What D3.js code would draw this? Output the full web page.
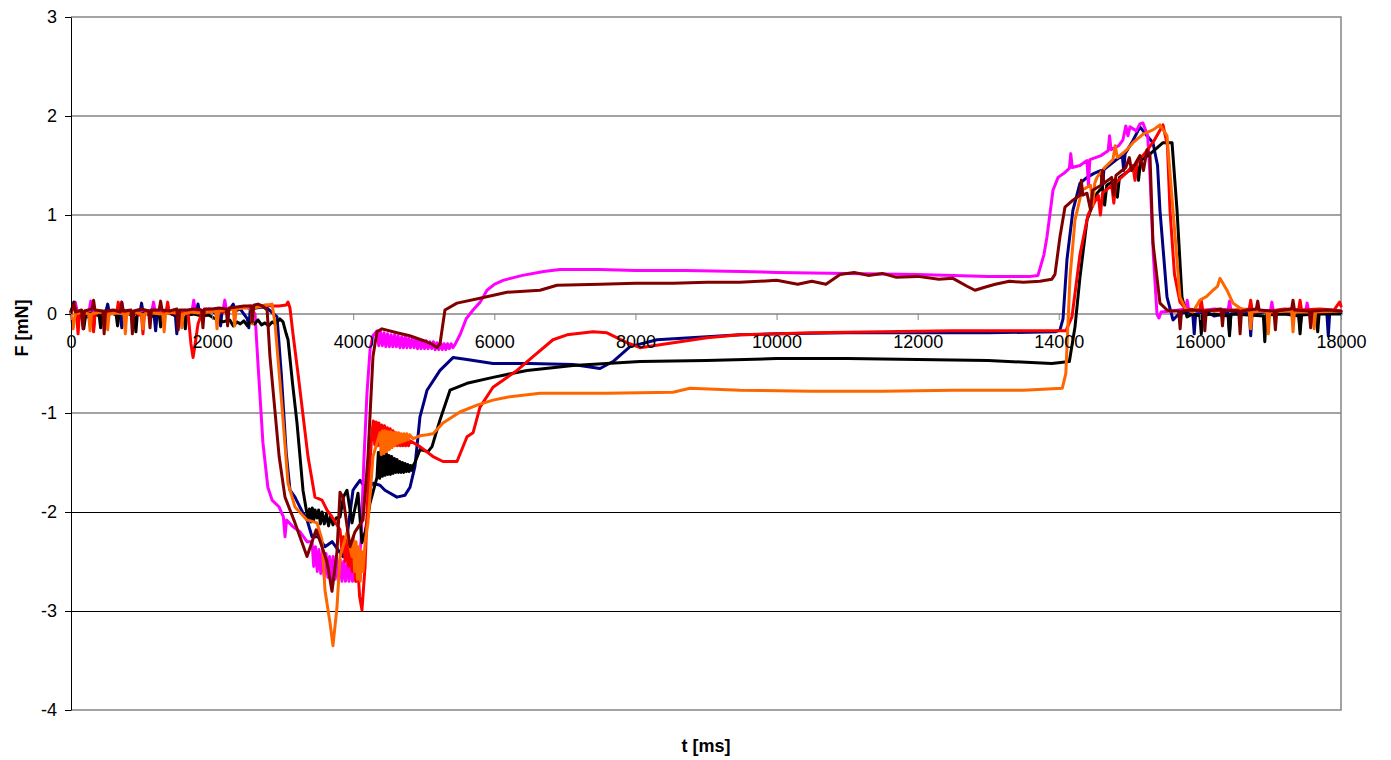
<!DOCTYPE html>
<html>
<head>
<meta charset="utf-8">
<script src="https://cdn.jsdelivr.net/npm/d3@7"></script>
<style>
  body { margin: 0; background: #fff; }
  svg { display: block; font-family: "Liberation Sans", Arial, sans-serif; }
</style>
</head>
<body>
<svg id="chart" width="1391" height="760"></svg>
<script>
// Axis ticks
const xTicks = [0, 2000, 4000, 6000, 8000, 10000, 12000, 14000, 16000, 18000];
const yTicks = [3, 2, 1, 0, -1, -2, -3, -4];
const xTitle = "t [ms]";
const yTitle = "F [mN]";

// Force traces, [t in ms, F in mN]
const navy = [
  [0,0.02],[40,0.1],[80,0.0],[150,0.03],[230,-0.03],[300,0.02],[320,-0.15],[340,0.02],[420,0.0],[500,0.04],
  [520,0.1],[540,0.02],[640,0.01],[700,-0.02],[720,-0.14],[740,0.01],[820,0.03],[900,0.0],[980,0.02],[1000,0.11],
  [1020,0.02],[1100,0.0],[1180,-0.03],[1200,-0.17],[1220,0.0],[1320,0.02],[1400,0.01],[1480,-0.02],[1500,-0.2],[1520,0.0],
  [1620,0.03],[1700,0.0],[1780,0.02],[1800,0.1],[1820,0.02],[1900,0.01],[2000,0.03],[2100,-0.02],[2120,-0.12],[2140,0.02],
  [2240,0.04],[2300,0.1],[2320,0.03],[2400,0.05],[2500,-0.05],[2520,-0.14],[2540,0.04],[2620,0.06],[2700,0.07],[2780,0.06],
  [2920,-0.03],[2980,-0.6],[3050,-1.4],[3104,-1.78],[3175,-1.85],[3217,-1.91],[3280,-2.0],[3345,-2.08],[3416,-2.25],[3500,-2.25],
  [3600,-2.35],[3700,-2.3],[3855,-2.45],[3920,-2.2],[3997,-1.78],[4025,-1.75],[4096,-1.68],[4195,-1.78],[4280,-1.71],[4379,-1.73],
  [4450,-1.78],[4620,-1.85],[4734,-1.83],[4805,-1.75],[4875,-1.54],[4946,-1.04],[5017,-0.85],[5046,-0.77],[5230,-0.57],[5414,-0.44],
  [5613,-0.46],[5981,-0.5],[6500,-0.5],[7115,-0.51],[7498,-0.55],[7682,-0.48],[7923,-0.33],[8305,-0.26],[9014,-0.23],[9482,-0.21],
  [10000,-0.2],[11000,-0.19],[12000,-0.19],[13000,-0.19],[13950,-0.18],[14017,-0.16],[14060,-0.05],[14116,0.55],[14201,1.05],[14300,1.32],
  [14400,1.38],[14500,1.42],[14600,1.45],[14620,1.28],[14640,1.46],[14800,1.55],[14900,1.6],[14920,1.45],[14940,1.62],[15050,1.75],
  [15151,1.89],[15250,1.8],[15335,1.73],[15400,1.5],[15434,1.05],[15534,0.17],[15619,-0.06],[15700,0.0],[15800,0.02],[15900,-0.01],
  [15920,-0.2],[15940,0.0],[16100,0.02],[16200,-0.02],[16400,0.01],[16420,-0.18],[16440,0.0],[16700,0.02],[16720,-0.22],[16740,0.0],
  [17000,0.03],[17200,0.01],[17400,0.02],[17420,-0.15],[17440,0.0],[17650,0.02],[17800,0.0],[17820,-0.22],[17840,0.01],[18000,0.02]
];

const magenta = [
  [0,0.03],[60,0.12],[90,0.02],[180,0.01],[260,0.04],[280,0.13],[300,0.03],[400,0.02],[500,-0.02],[600,0.03],
  [700,0.05],[720,0.12],[740,0.03],[850,0.02],[950,0.0],[1050,0.03],[1150,0.04],[1170,0.12],[1190,0.03],[1300,0.02],
  [1420,0.0],[1520,0.03],[1620,0.02],[1720,0.05],[1740,0.14],[1760,0.04],[1860,0.03],[1960,0.05],[2060,0.04],[2160,0.06],
  [2180,0.14],[2200,0.05],[2300,0.05],[2400,0.07],[2500,0.06],[2560,0.05],[2608,0.0],[2650,-0.5],[2720,-1.3],[2790,-1.75],
  [2850,-1.88],[2950,-1.95],[3010,-2.05],[3033,-2.25],[3055,-2.08],[3146,-2.15],[3246,-2.2],[3345,-2.3],[3416,-2.3],[3440,-2.55],
  [3465,-2.35],[3490,-2.6],[3515,-2.38],[3540,-2.62],[3565,-2.4],[3590,-2.65],[3615,-2.42],[3640,-2.66],[3665,-2.45],[3690,-2.68],
  [3715,-2.45],[3740,-2.68],[3765,-2.47],[3790,-2.7],[3815,-2.48],[3840,-2.7],[3865,-2.5],[3890,-2.7],[3915,-2.52],[3940,-2.7],
  [3965,-2.52],[3990,-2.7],[4015,-2.55],[4040,-2.7],[4068,-2.6],
  [4110,-2.3],[4150,-1.5],[4195,-0.8],[4240,-0.35],[4280,-0.22],
  [4337,-0.17],[4362,-0.32],[4387,-0.18],[4412,-0.32],[4437,-0.19],[4462,-0.33],[4487,-0.2],[4512,-0.33],[4537,-0.21],[4562,-0.33],
  [4587,-0.21],[4612,-0.33],[4637,-0.22],[4662,-0.34],[4687,-0.23],[4712,-0.34],[4737,-0.23],[4762,-0.34],[4787,-0.24],[4812,-0.34],
  [4837,-0.25],[4862,-0.34],[4887,-0.25],[4912,-0.35],[4937,-0.26],[4962,-0.35],[4987,-0.27],[5012,-0.35],[5037,-0.27],[5062,-0.35],
  [5087,-0.28],[5112,-0.35],[5137,-0.28],[5162,-0.36],[5187,-0.29],[5212,-0.36],[5237,-0.29],[5262,-0.36],[5287,-0.3],[5312,-0.36],
  [5337,-0.3],[5362,-0.35],[5387,-0.3],[5412,-0.34],[5442,-0.31],
  [5520,-0.2],[5600,-0.05],[5698,0.04],[5800,0.12],[5896,0.24],[6000,0.3],
  [6123,0.34],[6400,0.39],[6700,0.43],[6931,0.45],[7500,0.45],[8000,0.44],[8700,0.44],[9500,0.43],[10000,0.42],[11000,0.41],
  [12000,0.4],[13000,0.38],[13600,0.38],[13705,0.39],[13790,0.6],[13833,0.78],[13918,1.25],[13990,1.38],[14088,1.43],[14150,1.47],
  [14170,1.62],[14190,1.48],[14300,1.5],[14400,1.55],[14420,1.3],[14440,1.56],[14600,1.6],[14700,1.65],[14720,1.8],[14740,1.66],
  [14850,1.7],[14910,1.76],[14950,1.9],[14980,1.8],[15009,1.89],[15100,1.85],[15150,1.92],[15193,1.93],[15260,1.8],[15293,1.4],
  [15340,0.6],[15392,0.0],[15420,-0.04],[15450,0.02],[15600,0.03],[15800,0.05],[15820,0.14],[15840,0.04],[16000,0.03],[16200,0.05],
  [16400,0.04],[16420,0.13],[16440,0.04],[16600,0.03],[16800,0.04],[17000,0.03],[17020,0.12],[17040,0.03],[17300,0.05],[17500,0.03],
  [17520,0.11],[17540,0.03],[17800,0.04],[18000,0.03]
];

const black = [
  [0,0.0],[40,0.12],[70,0.0],[150,-0.02],[180,-0.15],[210,0.0],[300,0.01],[400,-0.02],[420,-0.14],[440,0.0],
  [540,0.02],[640,-0.01],[660,-0.12],[680,0.0],[800,0.01],[900,-0.03],[920,-0.18],[940,0.0],[1050,0.01],[1150,-0.02],
  [1250,0.0],[1270,-0.13],[1290,0.0],[1400,0.01],[1500,-0.02],[1600,-0.03],[1620,-0.15],[1640,-0.01],[1750,0.0],[1850,-0.02],
  [1950,-0.01],[2050,-0.05],[2150,-0.08],[2250,-0.06],[2300,-0.12],[2350,-0.08],[2400,-0.1],[2450,-0.07],[2500,-0.12],[2540,-0.08],
  [2600,-0.1],[2650,-0.06],[2700,-0.11],[2750,-0.09],[2800,-0.12],[2850,-0.08],[2900,-0.1],[2960,-0.05],[3005,-0.08],[3050,-0.2],
  [3076,-0.26],[3140,-0.7],[3203,-1.1],[3288,-1.78],[3359,-2.08],[3380,-1.97],[3400,-2.1],[3420,-1.96],[3440,-2.08],[3460,-1.98],
  [3487,-2.06],[3510,-1.98],[3535,-2.12],[3560,-2.0],[3590,-2.12],[3620,-2.02],[3650,-2.14],[3680,-2.04],[3713,-2.13],[3760,-2.06],
  [3813,-2.05],[3860,-1.85],[3912,-1.78],[3983,-2.11],[4068,-1.81],[4124,-2.31],[4170,-2.2],[4238,-1.91],
  [4337,-1.65],[4356,-1.4],[4375,-1.66],[4394,-1.38],[4413,-1.64],[4432,-1.39],[4451,-1.63],[4470,-1.41],[4489,-1.62],[4508,-1.43],
  [4527,-1.62],[4546,-1.44],[4565,-1.61],[4584,-1.46],[4603,-1.6],[4622,-1.47],[4641,-1.6],[4660,-1.49],[4679,-1.6],[4698,-1.5],
  [4717,-1.6],[4736,-1.51],[4755,-1.59],[4774,-1.52],[4793,-1.59],[4812,-1.53],[4831,-1.58],[4850,-1.53],[4875,-1.5],
  [4946,-1.37],[5060,-1.39],[5117,-1.34],[5230,-1.07],[5372,-0.77],[5613,-0.7],[5981,-0.64],[6463,-0.57],
  [7115,-0.52],[8064,-0.48],[9000,-0.47],[10000,-0.45],[11000,-0.45],[12000,-0.46],[13000,-0.47],[13900,-0.5],[14150,-0.48],[14230,-0.13],
  [14300,0.37],[14400,0.95],[14541,1.22],[14620,1.28],[14650,1.1],[14680,1.3],[14726,1.32],[14800,1.36],[14830,1.18],[14860,1.38],
  [15000,1.45],[15100,1.52],[15130,1.35],[15160,1.55],[15300,1.62],[15477,1.73],[15605,1.73],[15676,1.05],[15746,0.17],[15817,-0.03],
  [15900,0.0],[16000,-0.02],[16020,-0.2],[16040,-0.01],[16200,0.0],[16400,-0.02],[16420,-0.22],[16440,0.0],[16700,-0.01],[16900,-0.02],
  [16920,-0.28],[16940,-0.01],[17200,0.0],[17400,-0.02],[17420,-0.2],[17440,-0.01],[17650,0.0],[17670,-0.18],[17690,0.0],[18000,0.0]
];

const red = [
  [0,0.0],[50,0.1],[80,0.0],[100,-0.2],[120,0.0],[200,0.02],[300,-0.02],[320,-0.18],[340,0.0],[450,0.03],
  [550,0.0],[650,0.02],[670,0.12],[690,0.02],[800,0.0],[900,0.02],[1000,-0.02],[1020,-0.2],[1040,0.0],[1150,0.02],
  [1250,0.0],[1350,0.03],[1370,0.12],[1390,0.02],[1500,0.0],[1600,0.01],[1660,0.0],[1700,-0.3],[1730,-0.44],[1760,-0.3],
  [1800,-0.1],[1850,0.0],[1950,0.02],[2050,0.03],[2150,0.02],[2250,0.05],[2350,0.06],[2450,0.07],[2550,0.08],[2650,0.07],
  [2750,0.09],[2850,0.08],[2950,0.08],[3050,0.09],[3076,0.12],[3104,0.06],[3146,-0.2],[3217,-0.6],[3359,-1.44],[3458,-1.85],
  [3557,-1.88],[3628,-1.98],[3700,-2.05],[3813,-2.18],[3840,-2.4],[3860,-2.25],[3885,-2.5],[3910,-2.3],[3935,-2.55],[3960,-2.35],
  [3985,-2.6],[4010,-2.4],[4035,-2.7],[4060,-2.5],[4090,-2.85],[4124,-2.99],[4167,-2.56],[4209,-1.78],
  [4266,-1.2],[4285,-1.08],[4305,-1.32],[4325,-1.09],[4345,-1.33],[4365,-1.1],[4385,-1.33],[4405,-1.12],[4425,-1.33],[4445,-1.13],
  [4465,-1.33],[4485,-1.15],[4505,-1.33],[4525,-1.16],[4545,-1.33],[4565,-1.18],[4585,-1.33],[4605,-1.2],[4625,-1.33],[4645,-1.21],
  [4665,-1.33],[4685,-1.23],[4705,-1.33],[4725,-1.24],[4745,-1.33],[4765,-1.26],[4785,-1.33],[4805,-1.28],
  [4946,-1.34],[5131,-1.44],[5272,-1.49],[5471,-1.49],[5613,-1.24],[5698,-1.2],
  [5797,-0.94],[5981,-0.74],[6321,-0.57],[6548,-0.43],[6831,-0.26],[7030,-0.21],[7398,-0.18],[7597,-0.19],[7880,-0.29],[8064,-0.34],
  [8348,-0.31],[9014,-0.24],[9482,-0.21],[10500,-0.19],[11500,-0.18],[12500,-0.17],[13500,-0.17],[14100,-0.17],[14187,-0.03],[14300,0.6],
  [14414,1.0],[14500,1.12],[14560,1.2],[14590,1.0],[14620,1.22],[14750,1.3],[14780,1.12],[14810,1.33],[14950,1.42],[15050,1.5],
  [15080,1.35],[15110,1.53],[15250,1.65],[15350,1.75],[15477,1.91],[15540,1.7],[15576,1.05],[15640,0.4],[15718,0.12],[15800,0.05],
  [16000,0.04],[16020,0.14],[16040,0.04],[16300,0.03],[16500,0.04],[16700,0.05],[16720,0.14],[16740,0.04],[17000,0.03],[17200,0.05],
  [17400,0.04],[17420,0.14],[17440,0.04],[17700,0.05],[17900,0.04],[17980,0.12],[18000,0.08]
];

const orange = [
  [0,0.0],[30,-0.15],[60,0.0],[150,0.02],[250,0.0],[270,-0.17],[290,0.0],[400,0.02],[500,0.0],[520,-0.16],
  [540,0.0],[650,0.01],[750,0.0],[770,-0.2],[790,0.0],[900,0.02],[1000,0.0],[1020,-0.15],[1040,0.0],[1150,0.01],
  [1300,0.0],[1320,-0.18],[1340,0.0],[1450,0.02],[1550,0.0],[1570,-0.14],[1590,0.0],[1700,0.02],[1800,0.01],[1950,0.02],
  [2050,0.03],[2070,-0.15],[2090,0.03],[2200,0.04],[2300,0.05],[2320,-0.12],[2340,0.05],[2450,0.06],[2550,0.07],[2570,-0.1],
  [2590,0.06],[2700,0.08],[2780,0.09],[2849,0.1],[2891,-0.09],[2991,-0.94],[3076,-1.71],[3175,-1.95],[3345,-2.08],[3487,-2.11],
  [3557,-2.28],[3600,-2.79],[3671,-3.12],[3713,-3.35],[3770,-2.96],[3813,-2.45],[3912,-2.21],[3983,-2.45],[4000,-2.25],[4020,-2.6],
  [4040,-2.3],[4060,-2.68],[4080,-2.35],[4100,-2.7],[4120,-2.4],[4139,-2.6],[4170,-2.3],[4209,-2.11],[4280,-1.44],
  [4379,-1.2],[4398,-1.42],[4417,-1.18],[4436,-1.41],[4455,-1.18],[4474,-1.39],[4493,-1.19],[4512,-1.37],[4531,-1.19],[4550,-1.35],
  [4569,-1.2],[4588,-1.33],[4607,-1.2],[4626,-1.31],[4645,-1.2],[4664,-1.3],[4683,-1.21],[4702,-1.29],[4721,-1.21],[4740,-1.28],
  [4760,-1.21],[4780,-1.27],[4800,-1.22],[4850,-1.26],[4946,-1.23],
  [5046,-1.22],[5131,-1.21],[5272,-1.1],[5513,-0.99],
  [5754,-0.92],[5981,-0.87],[6179,-0.84],[6647,-0.8],[7597,-0.8],[8532,-0.79],[8773,-0.75],[9482,-0.77],[10500,-0.78],[11500,-0.78],
  [12500,-0.77],[13500,-0.77],[14050,-0.75],[14100,-0.6],[14159,0.37],[14230,0.95],[14329,1.25],[14450,1.3],[14480,1.1],[14510,1.32],
  [14541,1.38],[14650,1.48],[14768,1.56],[14800,1.7],[14830,1.58],[14950,1.65],[15052,1.73],[15200,1.82],[15335,1.86],[15434,1.91],
  [15534,1.8],[15619,1.05],[15718,0.17],[15800,0.05],[15900,0.02],[16001,0.14],[16100,0.18],[16185,0.24],[16250,0.28],[16285,0.36],
  [16384,0.24],[16469,0.11],[16568,0.06],[16700,0.03],[16720,-0.15],[16740,0.02],[16950,0.03],[16970,-0.2],[16990,0.02],[17300,0.03],
  [17320,-0.18],[17340,0.02],[17600,0.02],[17620,-0.15],[17640,0.02],[18000,0.03]
];

const maroon = [
  [0,0.03],[40,0.1],[70,0.02],[150,0.04],[170,-0.15],[190,0.03],[300,0.05],[320,0.14],[340,0.04],[450,0.03],
  [470,-0.2],[490,0.03],[600,0.04],[700,0.02],[720,0.12],[740,0.03],[850,0.04],[870,-0.2],[890,0.03],[1000,0.05],
  [1100,0.03],[1120,-0.14],[1140,0.04],[1250,0.04],[1270,0.13],[1290,0.04],[1400,0.03],[1500,0.05],[1520,-0.16],[1540,0.04],
  [1650,0.04],[1750,0.05],[1850,0.04],[1870,-0.14],[1890,0.05],[2000,0.05],[2100,0.06],[2200,0.05],[2220,-0.12],[2240,0.06],
  [2350,0.07],[2450,0.08],[2550,0.08],[2570,-0.08],[2590,0.09],[2650,0.1],[2720,0.08],[2780,0.04],[2820,-0.43],[2950,-1.44],
  [3033,-1.85],[3175,-2.11],[3345,-2.45],[3475,-2.18],[3628,-2.5],[3699,-2.8],[3770,-2.4],[3813,-1.8],[3855,-1.85],[3954,-2.35],
  [4025,-2.2],[4139,-2.08],[4209,-1.44],[4280,-0.43],[4337,-0.18],[4408,-0.15],[4620,-0.19],[4800,-0.22],[5000,-0.27],[5130,-0.31],
  [5188,-0.34],[5230,-0.3],[5300,0.04],[5471,0.11],[5797,0.16],[6179,0.22],[6647,0.24],[6888,0.29],[7500,0.3],[8000,0.31],
  [8532,0.31],[9014,0.32],[9482,0.32],[10000,0.34],[10300,0.3],[10500,0.33],[10700,0.3],[10900,0.4],[11100,0.42],[11300,0.39],
  [11500,0.41],[11700,0.37],[12000,0.38],[12300,0.35],[12500,0.36],[12700,0.28],[12812,0.24],[12950,0.27],[13100,0.3],[13300,0.33],
  [13500,0.32],[13734,0.33],[13900,0.35],[13946,0.4],[14017,0.78],[14088,1.08],[14201,1.15],[14300,1.2],[14320,1.35],[14340,1.2],
  [14400,1.22],[14450,1.05],[14480,1.25],[14600,1.3],[14620,1.45],[14640,1.32],[14750,1.38],[14780,1.2],[14810,1.4],[14950,1.48],
  [15000,1.58],[15030,1.45],[15150,1.6],[15200,1.45],[15250,1.66],[15293,1.6],[15335,0.72],[15434,0.11],[15534,0.04],[15600,0.03],
  [15700,0.03],[15720,-0.15],[15740,0.03],[15900,0.04],[16050,0.03],[16070,-0.17],[16090,0.03],[16300,0.05],[16320,-0.12],[16340,0.04],
  [16550,0.03],[16570,-0.2],[16590,0.03],[16800,0.05],[16820,0.13],[16840,0.04],[17050,0.03],[17070,-0.16],[17090,0.03],[17300,0.05],
  [17320,0.14],[17340,0.04],[17550,0.03],[17570,-0.14],[17590,0.03],[17800,0.04],[18000,0.03]
];

const traces = [
  { values: navy, color: "#000080" },
  { values: magenta, color: "#FF00FF" },
  { values: black, color: "#000000" },
  { values: red, color: "#FF0000" },
  { values: orange, color: "#FF6600" },
  { values: maroon, color: "#800000" }
];

const svg = d3.select("#chart");
const plotLeft = 71, plotRight = 1341, plotTop = 17, plotBottom = 710;

const x = d3.scaleLinear().domain([0, 18000]).range([plotLeft, plotRight]);
const y = d3.scaleLinear().domain([-4, 3]).range([plotBottom, plotTop]);

const isDark = d => d === -2 || d === -3;

// Horizontal gridlines
svg.append("g")
  .selectAll("line")
  .data(yTicks.filter(v => v !== 3 && v !== -4))
  .join("line")
  .attr("x1", plotLeft).attr("x2", plotRight)
  .attr("y1", d => y(d) + (isDark(d) ? 0.5 : 0))
  .attr("y2", d => y(d) + (isDark(d) ? 0.5 : 0))
  .attr("stroke", d => isDark(d) ? "#000" : "#858585")
  .attr("stroke-width", d => isDark(d) ? 1 : 1.5);

// Plot area frame (top, right, bottom)
svg.append("path")
  .attr("d", `M${plotLeft},${plotTop}H${plotRight}V${plotBottom}H${plotLeft}`)
  .attr("fill", "none")
  .attr("stroke", "#858585")
  .attr("stroke-width", 1.5);

// Traces
const line = d3.line()
  .x(d => x(d[0]))
  .y(d => y(d[1]));

svg.append("g")
  .selectAll("path")
  .data(traces)
  .join("path")
  .attr("d", d => line(d.values))
  .attr("fill", "none")
  .attr("stroke", d => d.color)
  .attr("stroke-width", 3)
  .attr("stroke-linejoin", "round")
  .attr("stroke-linecap", "round");

// Y axis
const yAxis = svg.append("g")
  .attr("transform", `translate(${plotLeft},0)`)
  .call(d3.axisLeft(y).tickValues(yTicks).tickSize(6).tickSizeOuter(0).tickPadding(8)
    .tickFormat(d => String(d)));
yAxis.select(".domain").attr("stroke", "#000");
yAxis.selectAll(".tick line").attr("stroke", "#000");
yAxis.selectAll("text")
  .attr("font-size", 18)
  .attr("font-family", "'Liberation Sans', Arial, sans-serif")
  .attr("fill", "#000");

// X axis crossing at F = 0
const xAxis = svg.append("g")
  .attr("transform", `translate(0,${y(0)})`)
  .call(d3.axisBottom(x).tickValues(xTicks).tickSize(6).tickSizeOuter(0).tickPadding(15)
    .tickFormat(d => String(d)));
xAxis.select(".domain").remove();
xAxis.selectAll(".tick line").attr("stroke", "#858585");
xAxis.selectAll("text")
  .attr("font-size", 18)
  .attr("font-family", "'Liberation Sans', Arial, sans-serif")
  .attr("fill", "#000");

// Axis titles
svg.append("text")
  .attr("x", (plotLeft + plotRight) / 2)
  .attr("y", 752)
  .attr("text-anchor", "middle")
  .attr("font-size", 18)
  .attr("font-weight", "bold")
  .text(xTitle);

svg.append("text")
  .attr("transform", "translate(28,328) rotate(-90)")
  .attr("text-anchor", "middle")
  .attr("font-size", 18)
  .attr("font-weight", "bold")
  .text(yTitle);
</script>
</body>
</html>
